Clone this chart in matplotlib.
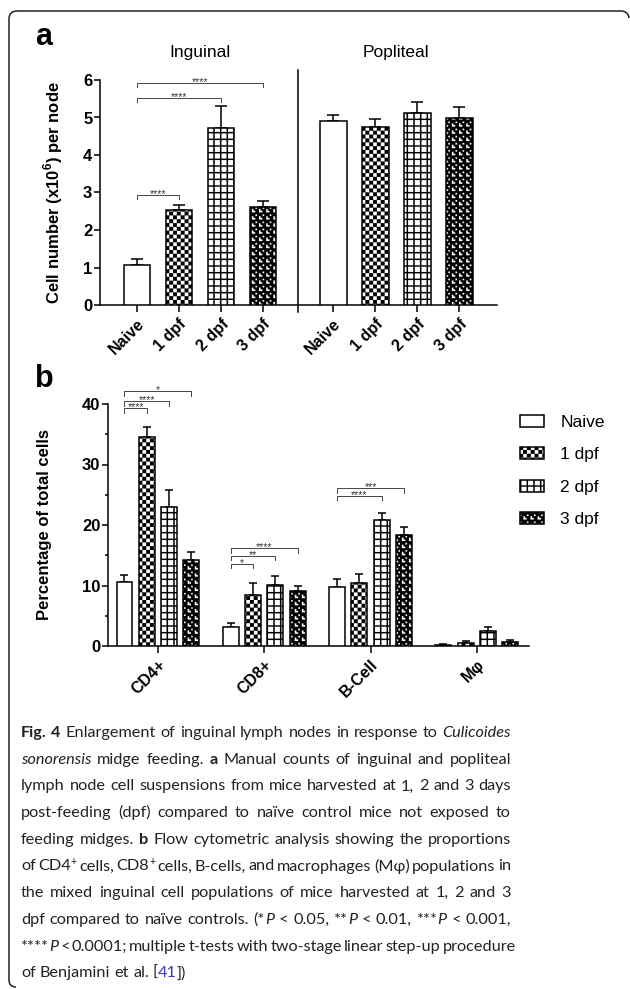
import numpy as np
import matplotlib
matplotlib.use('Agg')
import matplotlib.pyplot as plt
import matplotlib.hatch as mhatch
import matplotlib.transforms as mtransforms
from matplotlib.path import Path
from matplotlib.patches import PathPatch

# ---- data -------------------------------------------------------------
conditions = ['Naive', '1 dpf', '2 dpf', '3 dpf']

inguinal_mean = [1.08, 2.53, 4.73, 2.61]
inguinal_err = [0.15, 0.14, 0.58, 0.16]
popliteal_mean = [4.91, 4.75, 5.11, 4.98]
popliteal_err = [0.15, 0.20, 0.31, 0.29]
# (from bar, to bar, height, label)
brackets_a = [(0, 1, 2.93, '****'), (0, 2, 5.52, '****'), (0, 3, 5.92, '****')]

cell_types = ['CD4+', 'CD8+', 'B-Cell', 'Mφ']
naive_pct = [10.5, 3.1, 9.8, 0.15]
naive_pct_err = [1.2, 0.7, 1.2, 0.1]
dpf1_pct = [34.5, 8.5, 10.4, 0.5]
dpf1_pct_err = [1.7, 1.9, 1.5, 0.3]
dpf2_pct = [23.0, 10.1, 20.9, 2.5]
dpf2_pct_err = [2.8, 1.5, 1.1, 0.6]
dpf3_pct = [14.2, 9.1, 18.4, 0.6]
dpf3_pct_err = [1.3, 0.8, 1.2, 0.4]
# (cell type, from bar, to bar, height, label)
brackets_b = [(0, 0, 1, 39.3, '****'), (0, 0, 2, 40.5, '****'), (0, 0, 3, 42.1, '*'),
              (1, 0, 1, 13.6, '*'), (1, 0, 2, 14.9, '**'), (1, 0, 3, 16.2, '****'),
              (2, 0, 2, 24.8, '****'), (2, 0, 3, 26.1, '***')]

CAPTION = [
    [('Fig. 4', 'b'), (' Enlargement of inguinal lymph nodes in response to ', 'n'), ('Culicoides', 'i')],
    [('sonorensis', 'i'), (' midge feeding. ', 'n'), ('a', 'b'), (' Manual counts of inguinal and popliteal', 'n')],
    [('lymph node cell suspensions from mice harvested at 1, 2 and 3 days', 'n')],
    [('post-feeding (dpf) compared to naïve control mice not exposed to', 'n')],
    [('feeding midges. ', 'n'), ('b', 'b'), (' Flow cytometric analysis showing the proportions', 'n')],
    [('of CD4', 'n'), ('+', 'sup'), (' cells, CD8', 'n'), ('+', 'sup'),
     (' cells, B-cells, and macrophages (Mφ) populations in', 'n')],
    [('the mixed inguinal cell populations of mice harvested at 1, 2 and 3', 'n')],
    [('dpf compared to naïve controls. (*', 'n'), ('P', 'i'), (' < 0.05, **', 'n'), ('P', 'i'),
     (' < 0.01, ***', 'n'), ('P', 'i'), (' < 0.001,', 'n')],
    [('****', 'n'), ('P', 'i'), (' < 0.0001; multiple t-tests with two-stage linear step-up procedure', 'n')],
    [('of Benjamini et al. [', 'n'), ('41', 'link'), ('])', 'n')],
]

# ---- fill patterns (checker / grid / speckle like the GraphPad ones) ----
TILES = {
    'x': (["#.", ".#"], 13),
    '+': (["#####", "#....", "#....", "#....", "#...."], 15),
    '*': (["####", "#..#", "#.##", "###."], 14),
}


def tile_rects(rows, reps):
    n = len(rows)
    cell = 1.0 / (n * reps)
    rects = []
    for r in range(n * reps):
        row = rows[r % n] * reps
        c = 0
        while c < len(row):
            if row[c] == '#':
                start = c
                while c < len(row) and row[c] == '#':
                    c += 1
                rects.append((start * cell, r * cell, (c - start) * cell, cell))
            else:
                c += 1
    return rects


class TileHatch(mhatch.HatchPatternBase):
    def __init__(self, hatch, density):
        self.rects = []
        for ch, (rows, reps) in TILES.items():
            if ch in hatch:
                self.rects += tile_rects(rows, reps)
        self.num_vertices = 5 * len(self.rects)

    def set_vertices_and_codes(self, vertices, codes):
        for k, (x, y, w, h) in enumerate(self.rects):
            vertices[5 * k:5 * k + 5] = [(x, y), (x + w, y), (x + w, y + h), (x, y + h), (x, y)]
            codes[5 * k:5 * k + 5] = [Path.MOVETO, Path.LINETO, Path.LINETO, Path.LINETO, Path.CLOSEPOLY]


mhatch._hatch_types = [TileHatch]
HATCHES = [None, 'x', '+', '*']

plt.rcParams['font.family'] = ['Liberation Sans', 'DejaVu Sans']
plt.rcParams['hatch.linewidth'] = 0.1
plt.rcParams['mathtext.fontset'] = 'custom'
plt.rcParams['mathtext.rm'] = 'Liberation Sans'
plt.rcParams['mathtext.bf'] = 'Liberation Sans:bold'
plt.rcParams['axes.linewidth'] = 1.1

W, H = 630, 989
fig = plt.figure(figsize=(W / 100, H / 100), dpi=100)
px = mtransforms.Affine2D().scale(1 / W, -1 / H).translate(0, 1) + fig.transFigure


def fig_box(left, top, right, bottom):
    return [left / W, 1 - bottom / H, (right - left) / W, (bottom - top) / H]


def style_axes(ax):
    for s in ['top', 'right']:
        ax.spines[s].set_visible(False)
    ax.tick_params(axis='both', width=1.1)
    ax.tick_params(axis='y', length=4.5, pad=1, labelsize=12)
    ax.tick_params(axis='x', length=5, pad=3, labelsize=11.5)
    for lbl in ax.get_yticklabels():
        lbl.set_fontweight('bold')


def bracket(ax, x0, x1, y, drop, label):
    ax.plot([x0, x0, x1, x1], [y - drop, y, y, y - drop], color='#444444', lw=0.7, clip_on=False)
    ax.annotate(label, ((x0 + x1) / 2, y), xytext=(0, -1.5), textcoords='offset points',
                ha='center', va='baseline', fontsize=7.5, color='#333333', annotation_clip=False)


# ---- panel a ----------------------------------------------------------
ax_a = fig.add_axes(fig_box(100, 80, 497, 305))
x_ing = np.arange(4)
x_pop = np.arange(4) + 4.67
for k in range(4):
    xs = [x_ing[k], x_pop[k]]
    ax_a.bar(xs, [inguinal_mean[k], popliteal_mean[k]], width=0.64, color='white',
             edgecolor='black', linewidth=1.1, hatch=HATCHES[k], zorder=3)
    ax_a.errorbar(xs, [inguinal_mean[k], popliteal_mean[k]],
                  yerr=[[0, 0], [inguinal_err[k], popliteal_err[k]]], fmt='none',
                  ecolor='black', elinewidth=1.1, capsize=4.3, capthick=1.1, zorder=2)

for i, j, y, lab in brackets_a:
    bracket(ax_a, x_ing[i], x_ing[j], y, 0.11, lab)

div = (x_ing[-1] + x_pop[0]) / 2
ax_a.plot([div, div], [-0.19, 6.27], color='black', lw=1.1, clip_on=False)
ax_a.text(x_ing.mean(), 6.72, 'Inguinal', ha='center', va='center', fontsize=12.5)
ax_a.text(x_pop.mean(), 6.72, 'Popliteal', ha='center', va='center', fontsize=12.5)

ax_a.set_xlim(-0.88, 8.57)
ax_a.set_ylim(0, 6)
ax_a.set_yticks(range(7))
ax_a.set_xticks(np.concatenate([x_ing, x_pop]), conditions * 2, rotation=45, ha='right',
                rotation_mode='anchor', fontweight='bold')
style_axes(ax_a)
ax_a.set_ylabel(r'Cell number (x10$^{\mathbf{6}}$) per node', fontsize=12, fontweight='bold')
ax_a.yaxis.set_label_coords(-0.088, 0.5)

# ---- panel b ----------------------------------------------------------
ax_b = fig.add_axes(fig_box(108, 404, 529, 646))
groups = np.arange(4)
offsets = (np.arange(4) - 1.5) * 0.21
series = [(naive_pct, naive_pct_err), (dpf1_pct, dpf1_pct_err),
          (dpf2_pct, dpf2_pct_err), (dpf3_pct, dpf3_pct_err)]
handles = []
for k, (mean, err) in enumerate(series):
    bars = ax_b.bar(groups + offsets[k], mean, width=0.15, color='white', edgecolor='black',
                    linewidth=1.1, hatch=HATCHES[k], zorder=3, label=conditions[k])
    ax_b.errorbar(groups + offsets[k], mean, yerr=[np.zeros(4), err], fmt='none', ecolor='black',
                  elinewidth=1.1, capsize=2.9, capthick=1.1, zorder=2)
    handles.append(bars)

for g, i, j, y, lab in brackets_b:
    bracket(ax_b, g + offsets[i], g + offsets[j], y, 0.75, lab)

ax_b.set_xlim(-0.47, 3.49)
ax_b.set_ylim(0, 40)
ax_b.set_yticks([0, 10, 20, 30, 40])
ax_b.set_yticks([5, 15, 25, 35], minor=True)
ax_b.set_xticks(groups, cell_types, rotation=45, ha='right', rotation_mode='anchor',
                fontweight='bold')
style_axes(ax_b)
ax_b.tick_params(axis='y', which='minor', length=2.5, width=1.1)
ax_b.set_ylabel('Percentage of total cells', fontsize=12, fontweight='bold')
ax_b.yaxis.set_label_coords(-0.133, 0.5)

ax_b.legend(handles, conditions, loc='upper left', bbox_to_anchor=(511 / W, 1 - 406 / H),
            bbox_transform=fig.transFigure, frameon=False, fontsize=12.5, borderpad=0,
            handlelength=1.4, handleheight=0.7, handletextpad=0.95, labelspacing=1.0)

# ---- panel letters and frame -----------------------------------------
fig.text(35 / W, 1 - 45 / H, 'a', fontsize=22, fontweight='bold', va='baseline')
fig.text(35 / W, 1 - 387 / H, 'b', fontsize=22, fontweight='bold', va='baseline')

verts = [(16, 987), (9, 987), (9, 980), (9, 19), (9, 11), (17, 11), (621, 11), (628, 11), (629, 18)]
codes = [Path.MOVETO, Path.CURVE3, Path.CURVE3, Path.LINETO, Path.CURVE3, Path.CURVE3,
         Path.LINETO, Path.CURVE3, Path.CURVE3]
fig.patches.append(PathPatch(Path(verts, codes), transform=px, fill=False, lw=1.1,
                             edgecolor='#222222'))

# ---- caption (justified) ---------------------------------------------
CAP_FS = 11.7
CAP_LEFT, CAP_RIGHT = 21, 511
CAP_BASE, CAP_STEP = 737, 26.7
cap_font = ['Lato', 'DejaVu Sans']
STYLES = {
    'n': {},
    'b': {'fontweight': 'bold'},
    'i': {'fontstyle': 'italic'},
    'sup': {'fontsize': CAP_FS * 0.65},
    'link': {'color': '#3535c8'},
}
renderer = fig.canvas.get_renderer()


def width_of(t):
    return t.get_window_extent(renderer).width


probe = fig.text(0, 0, 'x x', family=cap_font, fontsize=CAP_FS)
probe2 = fig.text(0, 0, 'xx', family=cap_font, fontsize=CAP_FS)
space = width_of(probe) - width_of(probe2)
probe.remove()
probe2.remove()

for li, runs in enumerate(CAPTION):
    pieces = []
    pending = False
    for text, style in runs:
        for k, w in enumerate(text.split(' ')):
            if k > 0:
                pending = True
            if w:
                pieces.append((w, style, pending and bool(pieces)))
                pending = False
    texts = []
    for w, style, gap in pieces:
        kw = dict(family=cap_font, fontsize=CAP_FS, va='baseline', color='#222222')
        kw.update(STYLES[style])
        texts.append((fig.text(0, 0, w, **kw), gap, style))
    widths = [width_of(t) for t, _, _ in texts]
    n_gaps = sum(1 for _, g, _ in texts if g)
    natural = sum(widths) + n_gaps * space
    extra = 0
    if li < len(CAPTION) - 1 and n_gaps:
        # stretch (or squeeze a little) the word gaps to fill the column
        extra = max((CAP_RIGHT - CAP_LEFT - natural) / n_gaps, -0.5 * space)
    base = CAP_BASE + li * CAP_STEP
    x = CAP_LEFT
    for (t, gap, style), w in zip(texts, widths):
        if gap:
            x += space + extra
        dy = 6 if style == 'sup' else 0
        t.set_position((x / W, 1 - (base - dy) / H))
        x += w

fig.savefig('out.png', dpi=100)
